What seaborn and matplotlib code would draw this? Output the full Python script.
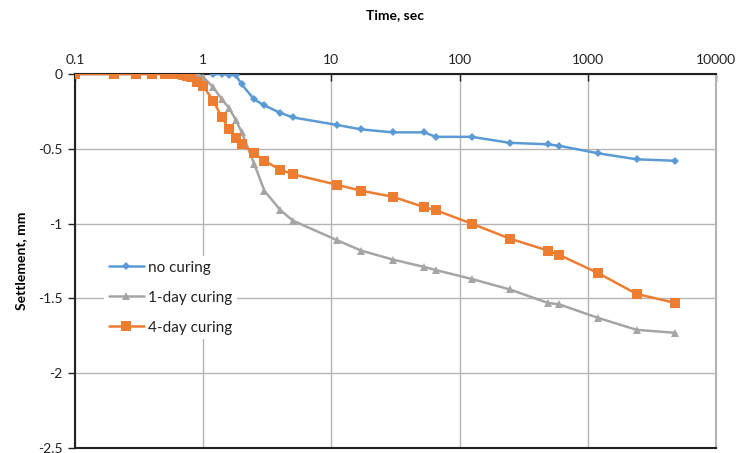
import matplotlib
matplotlib.use("Agg")
import matplotlib.pyplot as plt
import seaborn as sns
import pandas as pd
from matplotlib.ticker import FixedLocator, FixedFormatter, NullLocator

# ---- data ----
t_none = [1.2, 1.4, 1.6, 1.8, 2, 2.5, 3, 4, 5, 11, 17, 30, 53, 65, 124, 246, 487, 600, 1200, 2400, 4800]
s_none = [0, 0, -0.005, -0.01, -0.07, -0.17, -0.21, -0.26, -0.29, -0.34, -0.37, -0.39, -0.39, -0.42,
          -0.42, -0.46, -0.47, -0.48, -0.53, -0.57, -0.58]

t_1day = [0.1, 0.2, 0.3, 0.4, 0.5, 0.6, 0.7, 0.75, 0.8, 0.9, 1.0, 1.2, 1.4, 1.6, 1.8, 2, 2.5, 3, 4, 5,
          11, 17, 30, 53, 65, 124, 246, 487, 600, 1200, 2400, 4800]
s_1day = [0, 0, 0, 0, 0, 0, 0, 0, 0, 0, -0.02, -0.09, -0.17, -0.23, -0.31, -0.39, -0.6, -0.78, -0.91, -0.98,
          -1.11, -1.18, -1.24, -1.29, -1.31, -1.37, -1.44, -1.53, -1.54, -1.63, -1.71, -1.73]

t_4day = [0.1, 0.2, 0.3, 0.4, 0.5, 0.6, 0.7, 0.75, 0.8, 0.9, 1.0, 1.2, 1.4, 1.6, 1.8, 2, 2.5, 3, 4, 5,
          11, 17, 30, 53, 65, 124, 246, 487, 600, 1200, 2400, 4800]
s_4day = [0, 0, 0, 0, 0, 0, -0.01, -0.015, -0.02, -0.055, -0.08, -0.18, -0.29, -0.37, -0.43, -0.47,
          -0.53, -0.58, -0.64, -0.67, -0.74, -0.78, -0.82, -0.89, -0.91, -1.0, -1.1, -1.18, -1.21,
          -1.33, -1.47, -1.53]

series_names = ["no curing", "1-day curing", "4-day curing"]
x_ticks = [0.1, 1, 10, 100, 1000, 10000]
x_ticklabels = ["0.1", "1", "10", "100", "1000", "10000"]
y_ticks = [0, -0.5, -1, -1.5, -2, -2.5]
y_ticklabels = ["0", "-0.5", "-1", "-1.5", "-2", "-2.5"]

# ---- style ----
sns.set_theme(style="white")
plt.rcParams["font.family"] = ["Lato", "DejaVu Sans"]

fig = plt.figure(figsize=(7.39, 4.53), dpi=100)
ax = fig.add_axes([75/739, 1 - 448/453, (716-75)/739, (448-74)/453])

colors = ["#5B9BD5", "#A5A5A5", "#ED7D31"]
markers = ["D", "^", "s"]
msizes = [4.5, 6, 7]
data = [(t_none, s_none), (t_1day, s_1day), (t_4day, s_4day)]

for (tx, sy), name, c, m, ms in zip(data, series_names, colors, markers, msizes):
    df = pd.DataFrame({"t": tx, "s": sy})
    sns.lineplot(data=df, x="t", y="s", ax=ax, color=c, marker=m, markersize=ms,
                 markeredgewidth=0, linewidth=1.8, label=name, sort=False, zorder=3)

ax.set_xscale("log")
ax.set_xlim(0.1, 10000)
ax.set_ylim(-2.5, 0)

ax.xaxis.set_major_locator(FixedLocator(x_ticks))
ax.xaxis.set_major_formatter(FixedFormatter(x_ticklabels))
ax.xaxis.set_minor_locator(NullLocator())
ax.yaxis.set_major_locator(FixedLocator(y_ticks))
ax.yaxis.set_major_formatter(FixedFormatter(y_ticklabels))

ax.xaxis.tick_top()
ax.xaxis.set_label_position("top")
ax.tick_params(axis="x", which="major", direction="in", length=5, width=1, colors="#222222",
               labelsize=10, labelcolor="#222222", pad=6, bottom=False, top=True)
ax.tick_params(axis="y", which="major", direction="out", length=5, width=1, colors="#222222",
               labelsize=10, labelcolor="#222222", pad=4, left=True)

ax.grid(True, which="major", color="#b4b4b4", linewidth=1)
ax.set_axisbelow(True)

for side in ["left", "top", "bottom"]:
    ax.spines[side].set_color("#222222")
    ax.spines[side].set_linewidth(1.5)
    ax.spines[side].set_visible(True)
ax.spines["right"].set_color("#b4b4b4")
ax.spines["right"].set_linewidth(1.5)
ax.spines["right"].set_visible(True)

ax.set_xlabel("Time, sec", fontsize=10, fontweight="bold", color="black", labelpad=25)
ax.set_ylabel("Settlement, mm", fontsize=10, fontweight="bold", color="black", labelpad=8)

leg = ax.legend(loc="upper left", bbox_to_anchor=((104-75)/641, (448-256)/374),
                borderaxespad=0, frameon=True, fontsize=11, handlelength=2.3,
                labelspacing=1.05, handletextpad=0.3, borderpad=0.3, fancybox=False)
leg.get_frame().set_facecolor("white")
leg.get_frame().set_edgecolor("none")
leg.get_frame().set_alpha(1)
for txt in leg.get_texts():
    txt.set_color("#222222")

fig.savefig("out.png", dpi=100)
